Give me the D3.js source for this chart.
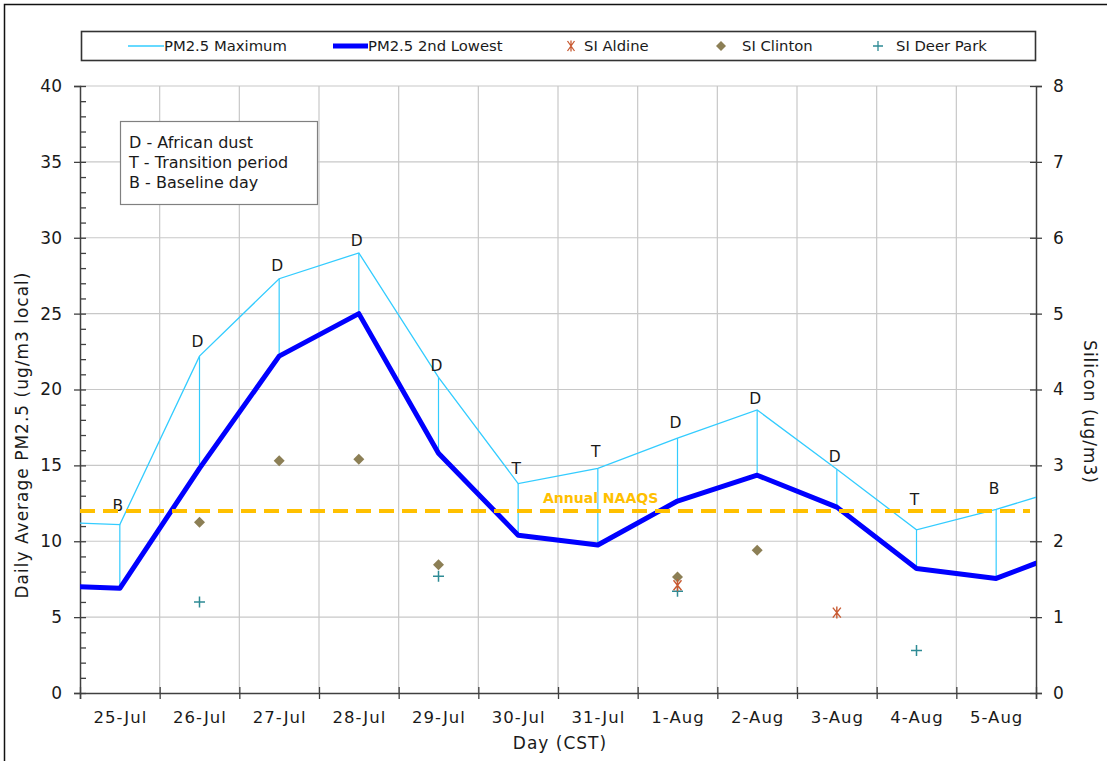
<!DOCTYPE html>
<html><head><meta charset="utf-8">
<script src="https://cdn.jsdelivr.net/npm/d3@7"></script>
<style>
body{margin:0;background:#fff}
svg{display:block}
text{font-family:"DejaVu Sans",Verdana,sans-serif;fill:#1a1a1a}
</style>
</head><body>
<svg id="chart" width="1107" height="761"></svg>
<script>
// ---- data (index 0 = 24-Jul and index 13 = 6-Aug are outside the visible window) ----
const days = ["24-Jul","25-Jul","26-Jul","27-Jul","28-Jul","29-Jul","30-Jul","31-Jul","1-Aug","2-Aug","3-Aug","4-Aug","5-Aug","6-Aug"];
const tickLabels = ["25-Jul","26-Jul","27-Jul","28-Jul","29-Jul","30-Jul","31-Jul","1-Aug","2-Aug","3-Aug","4-Aug","5-Aug"];
const pmMax = [11.3, 11.1, 22.2, 27.3, 29.0, 20.8, 13.8, 14.8, 16.8, 18.65, 14.75, 10.75, 12.1, 13.7];
const pm2ndLowest = [7.1, 6.9, 14.8, 22.2, 25.0, 15.8, 10.4, 9.75, 12.65, 14.35, 12.25, 8.2, 7.55, 9.55];
const dayTypeDays = ["25-Jul","26-Jul","27-Jul","28-Jul","29-Jul","30-Jul","31-Jul","1-Aug","2-Aug","3-Aug","4-Aug","5-Aug"];
const dayType = ["B","D","D","D","D","T","T","D","D","D","T","B"];
const dayTypeLevel = [12.0, 22.8, 27.8, 29.45, 21.2, 14.45, 15.55, 17.45, 19.05, 15.2, 12.4, 13.1];
const siAldineDays = ["1-Aug","3-Aug"];
const siAldine = [1.42, 1.06];
const siClintonDays = ["26-Jul","27-Jul","28-Jul","29-Jul","1-Aug","2-Aug"];
const siClinton = [2.25, 3.06, 3.08, 1.69, 1.53, 1.88];
const siDeerParkDays = ["26-Jul","29-Jul","1-Aug","4-Aug"];
const siDeerPark = [1.20, 1.54, 1.34, 0.56];
const naaqs = 12;
const leftTicks = [0,5,10,15,20,25,30,35,40];
const rightTicks = [0,1,2,3,4,5,6,7,8];
const keyLines = ["D - African dust","T - Transition period","B - Baseline day"];
const seriesNames = ["PM2.5 Maximum","PM2.5 2nd Lowest","SI Aldine","SI Clinton","SI Deer Park"];

// ---- layout ----
const L = 80, R = 1036, T = 86, B = 693;
const svg = d3.select("#chart");
const idx = d => days.indexOf(d);
const x = d3.scaleLinear().domain([0.5, 12.5]).range([L, R]);
const yL = d3.scaleLinear().domain([0, 40]).range([B, T]);
const yR = d3.scaleLinear().domain([0, 8]).range([B, T]);

const C = {cyan:"#33CCFF", blue:"#0000FF", gold:"#FFC000", clinton:"#8C7F55", deer:"#2E8B95", aldine:"#C85A32", grid:"#C8C8C8", axis:"#404040"};

// outer frame
svg.append("rect").attr("x",4.5).attr("y",4.5).attr("width",1120).attr("height",780)
  .attr("fill","none").attr("stroke","#111").attr("stroke-width",1.5);

// grid
const g = svg.append("g");
g.selectAll(".hg").data(leftTicks.filter(v=>v>0)).join("line")
  .attr("x1",L).attr("x2",R).attr("y1",d=>yL(d)).attr("y2",d=>yL(d))
  .attr("stroke",C.grid).attr("stroke-width",1.2);
g.selectAll(".vg").data(d3.range(1.5,12.5,1)).join("line")
  .attr("x1",d=>x(d)).attr("x2",d=>x(d)).attr("y1",T).attr("y2",B)
  .attr("stroke",C.grid).attr("stroke-width",1.2);

// axes
const axL = svg.append("g").attr("transform",`translate(${L},0)`)
  .call(d3.axisLeft(yL).tickValues(leftTicks).tickSize(6).tickPadding(12));
axL.selectAll(".tick line").attr("x2",6).attr("x1",-6);
const axLm = svg.append("g").attr("transform",`translate(${L},0)`)
  .call(d3.axisLeft(yL).tickValues(d3.range(0,41).filter(v=>v%5)).tickSize(-6).tickFormat(""));
axLm.select(".domain").remove();
const axR = svg.append("g").attr("transform",`translate(${R},0)`)
  .call(d3.axisRight(yR).tickValues(rightTicks).tickSize(6).tickPadding(11));
axR.selectAll(".tick line").attr("x1",-6).attr("x2",6);
const axB = svg.append("g").attr("transform",`translate(0,${B})`)
  .call(d3.axisBottom(x).tickValues(d3.range(0.5,13,1)).tickSize(6).tickFormat(""));
axB.selectAll(".tick line").attr("y1",-6).attr("y2",6);
const axBl = svg.append("g").attr("transform",`translate(0,${B})`)
  .call(d3.axisBottom(x).tickValues(d3.range(1,13)).tickSize(0).tickPadding(18).tickFormat((d,i)=>tickLabels[i]));
axBl.select(".domain").remove();
[axL,axLm,axR,axB].forEach(a=>{a.selectAll("path.domain").attr("stroke",C.axis).attr("stroke-width",1.5);
  a.selectAll(".tick line").attr("stroke",C.axis).attr("stroke-width",1.3);});
axL.selectAll("text").attr("font-size",17).attr("font-family","DejaVu Sans").attr("fill","#1a1a1a");
axR.selectAll("text").attr("font-size",17).attr("font-family","DejaVu Sans").attr("fill","#1a1a1a");
axBl.selectAll("text").attr("font-size",16.5).attr("letter-spacing","1px").attr("font-family","DejaVu Sans").attr("fill","#1a1a1a");

// titles
svg.append("text").attr("transform","translate(28,435) rotate(-90)").attr("text-anchor","middle")
  .attr("font-size",17).attr("letter-spacing","1px").text("Daily Average PM2.5 (ug/m3 local)");
svg.append("text").attr("transform","translate(1084,412) rotate(90)").attr("text-anchor","middle")
  .attr("font-size",17).attr("letter-spacing","1px").text("Silicon (ug/m3)");
svg.append("text").attr("x",(L+R)/2+2).attr("y",749).attr("text-anchor","middle")
  .attr("font-size",17).attr("letter-spacing","1px").text("Day (CST)");

// clip
svg.append("clipPath").attr("id","plotclip").append("rect").attr("x",L).attr("y",T-20).attr("width",R-L).attr("height",B-T+20);
const p = svg.append("g").attr("clip-path","url(#plotclip)");

// hi-lo lines
p.selectAll(".hl").data(days.map((d,i)=>i)).join("line")
  .attr("x1",i=>x(i)).attr("x2",i=>x(i)).attr("y1",i=>yL(pmMax[i])).attr("y2",i=>yL(pm2ndLowest[i]))
  .attr("stroke",C.cyan).attr("stroke-width",1.2);
const line = d3.line().x((d,i)=>x(i)).y(d=>yL(d));
p.append("path").datum(pmMax).attr("d",line).attr("fill","none").attr("stroke",C.cyan).attr("stroke-width",1.3);
p.append("path").datum(pm2ndLowest).attr("d",line).attr("fill","none").attr("stroke",C.blue).attr("stroke-width",5).attr("stroke-linejoin","round");

// day type letters
svg.selectAll(".dt").data(dayType).join("text")
  .attr("x",(d,i)=>x(idx(dayTypeDays[i]))-2).attr("y",(d,i)=>yL(dayTypeLevel[i]))
  .attr("text-anchor","middle").attr("font-size",15.5).text(d=>d);

// NAAQS
svg.append("line").attr("x1",L).attr("x2",R-6).attr("y1",yL(naaqs)).attr("y2",yL(naaqs))
  .attr("stroke",C.gold).attr("stroke-width",4).attr("stroke-dasharray","15,8");
svg.append("text").attr("x",543).attr("y",yL(naaqs)-8).attr("font-size",14).attr("font-weight","bold")
  .attr("fill",C.gold).style("fill",C.gold).text("Annual NAAQS");

// markers
const diamond = (s)=>`M0,${-s}L${s},0L0,${s}L${-s},0Z`;
svg.selectAll(".cl").data(siClinton).join("path")
  .attr("transform",(d,i)=>`translate(${x(idx(siClintonDays[i]))},${yR(d)})`)
  .attr("d",diamond(5.5)).attr("fill",C.clinton);
svg.selectAll(".dp").data(siDeerPark).join("path")
  .attr("transform",(d,i)=>`translate(${x(idx(siDeerParkDays[i]))},${yR(d)})`)
  .attr("d","M-5.5,0H5.5M0,-5.5V5.5").attr("stroke",C.deer).attr("stroke-width",1.5).attr("fill","none");
svg.selectAll(".al").data(siAldine).join("path")
  .attr("transform",(d,i)=>`translate(${x(idx(siAldineDays[i]))},${yR(d)})`)
  .attr("d","M-4,-5L4,5M4,-5L-4,5M0,-6V6").attr("stroke",C.aldine).attr("stroke-width",1.4).attr("fill","none");

// key box
svg.append("rect").attr("x",120.5).attr("y",121.5).attr("width",197).attr("height",83)
  .attr("fill","#fff").attr("stroke","#808080").attr("stroke-width",1.2);
svg.selectAll(".kl").data(keyLines).join("text").attr("x",129).attr("y",(d,i)=>148+i*20)
  .attr("font-size",16).text(d=>d);

// legend
svg.append("rect").attr("x",81.5).attr("y",31.5).attr("width",954).attr("height",29)
  .attr("fill","#fff").attr("stroke","#333").attr("stroke-width",1.6);
const ly = 46;
const lg = svg.append("g");
lg.append("line").attr("x1",128).attr("x2",164).attr("y1",ly).attr("y2",ly).attr("stroke",C.cyan).attr("stroke-width",1.5);
lg.append("line").attr("x1",333).attr("x2",368).attr("y1",ly).attr("y2",ly).attr("stroke",C.blue).attr("stroke-width",5);
lg.append("path").attr("transform",`translate(571,${ly})`).attr("d","M-3.5,-5L3.5,5M3.5,-5L-3.5,5M0,-5.5V5.5").attr("stroke",C.aldine).attr("stroke-width",1.3).attr("fill","none");
lg.append("path").attr("transform",`translate(721,${ly})`).attr("d",diamond(5)).attr("fill",C.clinton);
lg.append("path").attr("transform",`translate(878,${ly})`).attr("d","M-5,0H5M0,-5V5").attr("stroke",C.deer).attr("stroke-width",1.3).attr("fill","none");
const lx = [164, 368, 584, 742, 896];
lg.selectAll("text").data(seriesNames).join("text").attr("x",(d,i)=>lx[i]).attr("y",ly+5)
  .attr("font-size",14.8).text(d=>d);
</script>
</body></html>
